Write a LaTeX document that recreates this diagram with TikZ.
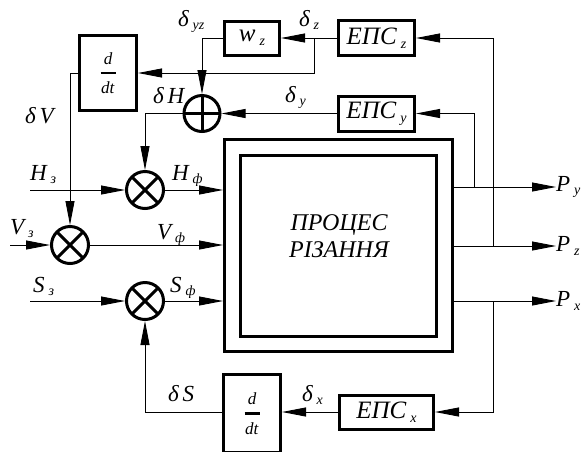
\documentclass[tikz,border=0pt]{standalone}
\usepackage{amsmath}
\usepackage{fontspec}
\setmainfont{Liberation Serif}
\usepackage{tikz}
\usetikzlibrary{arrows.meta, positioning, calc}
\newcommand{\lowsub}[1]{\,\raisebox{-0.35ex}{\fontsize{14}{14}\selectfont #1}}
\newcommand{\ddt}{$\genfrac{}{}{2.5pt}{0}{\textit{d}}{\makebox[15pt]{\textit{dt}}}$}
\tikzset{
  block/.style={
    rectangle, draw, line width=3pt, fill=white,
    inner sep=0pt, font=\fontsize{25}{25}\selectfont\itshape
  },
  ddtbox/.style={
    block, minimum width=57, minimum height=75,
    font=\fontsize{17}{17}\selectfont
  },
  epsbox/.style={block, minimum width=76, minimum height=35},
  mult/.style={
    circle, draw, line width=3pt, minimum size=37, inner sep=0pt,
    path picture={
      \draw[line width=3pt] (path picture bounding box.north west)
        -- (path picture bounding box.south east);
      \draw[line width=3pt] (path picture bounding box.north east)
        -- (path picture bounding box.south west);
    }
  },
  summ/.style={
    circle, draw, line width=3pt, minimum size=36, inner sep=0pt,
    path picture={
      \draw[line width=3pt] (path picture bounding box.north)
        -- (path picture bounding box.south);
      \draw[line width=3pt] (path picture bounding box.west)
        -- (path picture bounding box.east);
    }
  },
  lbl/.style={inner sep=0pt, anchor=base west, font=\fontsize{23}{23}\selectfont\itshape},
  line/.style={draw, line width=0.9pt, -{Triangle[length=24pt, width=9pt]}},
}

\begin{document}
\begin{tikzpicture}[x=1pt, y=-1pt]
  \useasboundingbox (0,0) rectangle (585,451);
  \clip (0,0) rectangle (585,451);

  \node[block, minimum width=228, minimum height=212] (proc) at (338.5,245.5) {};
  \node[block, minimum width=196, minimum height=181] (core) at (338.5,246) {};
  \node[font=\fontsize{24}{27}\selectfont\itshape, align=center, inner sep=0pt]
    (title) at (339,236) {ПРОЦЕС\\РІЗАННЯ};

  \node[ddtbox] (ddtv) at (108,73) {\ddt};
  \node[ddtbox, minimum height=78] (ddts) at (252,413.5) {\ddt};

  \node[epsbox] (epsz) at (376.5,38) {ЕПС\lowsub{z}};
  \node[epsbox] (epsy) at (376.5,113.5) {ЕПС\lowsub{y}};
  \node[epsbox, minimum width=94, minimum height=34] (epsx) at (386.5,412) {ЕПС\lowsub{x}};
  \node[block, minimum width=55, minimum height=34] (wz) at (252,38) {w\lowsub{z}};

  \node[summ] (sumh) at (202,113.5) {};
  \node[mult] (mulh) at (145,190) {};
  \node[mult] (mulv) at (70,245) {};
  \node[mult] (muls) at (145,301) {};

  \coordinate (inh) at (30,190);
  \coordinate (inv) at (10,245);
  \coordinate (ins) at (30,301);
  \coordinate (bz) at (314,38);
  \coordinate (oy) at (454,187);
  \coordinate (oz) at (454,246);
  \coordinate (ox) at (454,301);
  \coordinate (fy) at (474,187);
  \coordinate (fz) at (493,246);
  \coordinate (fx) at (493,301);

  \node[lbl, anchor=west] (py) at (556,187) {P\lowsub{y}};
  \node[lbl, anchor=west] (pz) at (556,246) {P\lowsub{z}};
  \node[lbl, anchor=west] (px) at (556,301) {P\lowsub{x}};

  \node[lbl] (hz) at (30,180) {H\lowsub{з}};
  \node[lbl] (hf) at (172,180) {H\lowsub{ф}};
  \node[lbl] (vz) at (10,234) {V\lowsub{з}};
  \node[lbl] (vf) at (157,239) {V\lowsub{ф}};
  \node[lbl] (sz) at (33,292) {S\lowsub{з}};
  \node[lbl] (sf) at (170,292) {S\lowsub{ф}};
  \node[lbl] (dyz) at (178,26) {δ\lowsub{yz}};
  \node[lbl] (dz) at (299,26) {δ\lowsub{z}};
  \node[lbl] (dy) at (285,102) {δ\lowsub{y}};
  \node[lbl] (dh) at (153,103) {δ\,H};
  \node[lbl] (dv) at (25,123) {δ\,V};
  \node[lbl] (dx) at (302,401) {δ\lowsub{x}};
  \node[lbl] (ds) at (168,401) {δ\,S};

  \draw[line] (inh) -- (mulh);
  \draw[line] (inv) -- (mulv);
  \draw[line] (ins) -- (muls);
  \draw[line] (mulh) -- (mulh -| proc.west);
  \draw[line] (mulv) -- (mulv -| proc.west);
  \draw[line] (muls) -- (muls -| proc.west);

  \draw[line] (oy) -- (py.west);
  \draw[line] (oz) -- (pz.west);
  \draw[line] (ox) -- (px.west);
  \draw[line] (fy) |- (epsy.east);
  \draw[line] (fz) |- (epsz.east);
  \draw[line] (fx) |- (epsx.east);

  \draw[line] (epsz) -- (wz);
  \draw[line] (bz) |- (ddtv.east);
  \draw[line] (wz.west) -| (sumh.north);
  \draw[line] (epsy) -- (sumh);
  \draw[line] (sumh.west) -| (mulh.north);
  \draw[line] (ddtv.west) -| (mulv.north);
  \draw[line] (epsx.west) -- (epsx.west -| ddts.east);
  \draw[line] (epsx.west -| ddts.west) -| (muls.south);
\end{tikzpicture}
\end{document}
